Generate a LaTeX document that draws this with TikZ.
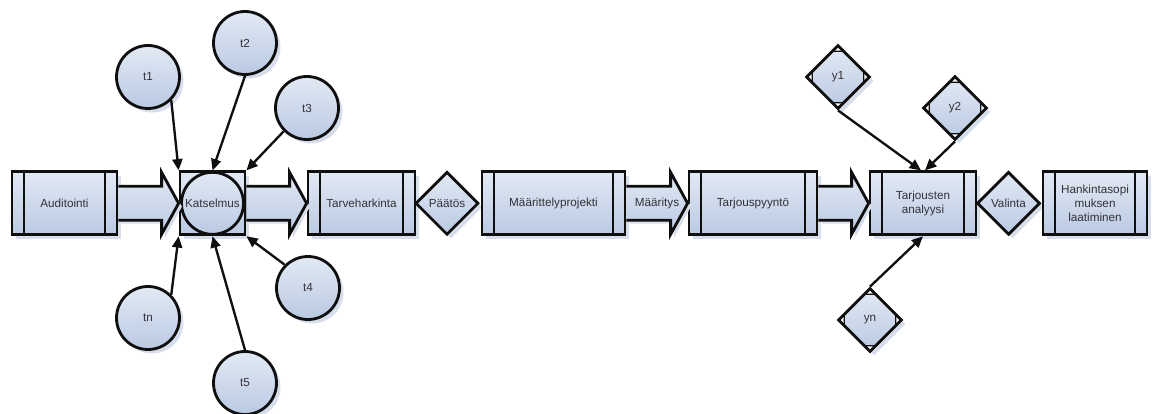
\documentclass[tikz,border=0pt]{standalone}
\usepackage{fontspec}
\setmainfont{Liberation Sans}
\usetikzlibrary{arrows.meta,positioning,calc,shapes.geometric,shadows}
\definecolor{shapetop}{RGB}{226,233,244}
\definecolor{shapebot}{RGB}{186,201,226}
\definecolor{shade}{RGB}{214,221,235}
\definecolor{ink}{RGB}{15,15,15}
\definecolor{label}{RGB}{50,50,55}
\tikzset{
  base/.style={draw=ink, line width=2.4pt, top color=shapetop, bottom color=shapebot,
              drop shadow={shadow xshift=0.12cm, shadow yshift=-0.12cm, fill=shade, opacity=1},
              font=\fontsize{10}{12}\selectfont, text=label, align=center, inner sep=1pt},
  proc/.style={base, rectangle, minimum height=1.89cm, minimum width=#1,
              path picture={\draw[ink, line width=2.4pt]
                ([xshift=0.36cm]path picture bounding box.north west) -- ([xshift=0.36cm]path picture bounding box.south west)
                ([xshift=-0.36cm]path picture bounding box.north east) -- ([xshift=-0.36cm]path picture bounding box.south east);}},
  review/.style={base, rectangle, minimum width=1.95cm, minimum height=1.89cm,
              path picture={\draw[ink, line width=2.4pt] (path picture bounding box.center) circle (0.93cm);}},
  choice/.style={base, diamond, minimum width=1.89cm, minimum height=1.89cm, inner sep=0pt},
  yref/.style={choice, minimum width=1.92cm, minimum height=1.92cm,
              path picture={
                \filldraw[ink, fill=white, line width=1pt] (path picture bounding box.north) -- ++(-0.17,-0.17) -- ++(0.34,0) -- cycle;
                \filldraw[ink, fill=white, line width=1pt] (path picture bounding box.south) -- ++(-0.17,0.17) -- ++(0.34,0) -- cycle;
                \filldraw[ink, fill=white, line width=1pt] (path picture bounding box.west) -- ++(0.17,0.17) -- ++(0,-0.34) -- cycle;
                \filldraw[ink, fill=white, line width=1pt] (path picture bounding box.east) -- ++(-0.17,0.17) -- ++(0,-0.34) -- cycle;}},
  tcirc/.style={base, circle, minimum size=1.89cm},
  bigarrow/.style={draw=ink, line width=2.4pt, top color=shapetop, bottom color=shapebot,
              drop shadow={shadow xshift=0.1cm, shadow yshift=-0.1cm, fill=shade, opacity=1}},
  link/.style={-{Triangle[length=0.34cm,width=0.3cm]}, ink, line width=2pt},
}
% block arrow from the east side of #1 to the west side of #2
\newcommand{\blockarrow}[2]{%
  \filldraw[bigarrow] ($(#1.east)+(0,0.51)$) -- ($(#2.west)+(-0.51,0.51)$) -- ($(#2.west)+(-0.51,0.93)$)
    -- (#2.west) -- ($(#2.west)+(-0.51,-0.93)$) -- ($(#2.west)+(-0.51,-0.51)$) -- ($(#1.east)+(0,-0.51)$);}
\begin{document}
\begin{tikzpicture}
  \useasboundingbox (0,0) rectangle (34.65,12.42);
  % main row
  \node[proc=3.15cm] (aud) at (1.935,6.32) {Auditointi};
  \node[review] (kat) at (6.375,6.32) {Katselmus};
  \node[proc=3.21cm] (tarve) at (10.845,6.32) {Tarveharkinta};
  \node[choice] (paatos) at (13.41,6.32) {Päätös};
  \node[proc=4.29cm] (mp) at (16.605,6.32) {Määrittelyprojekti};
  \node[proc=3.84cm] (tp) at (22.59,6.32) {Tarjouspyyntö};
  \node[proc=3.18cm] (ta) at (27.69,6.32) {Tarjousten\\analyysi};
  \node[choice] (val) at (30.255,6.32) {Valinta};
  \node[proc=3.12cm] (hs) at (32.85,6.32) {Hankintasopi\\muksen\\laatiminen};
  \blockarrow{aud}{kat}
  \blockarrow{kat}{tarve}
  \blockarrow{mp}{tp}
  \node[font=\fontsize{10}{12}\selectfont, text=label] (mlabel) at ($(mp.east)!0.5!(tp.west)$) {Määritys};
  \blockarrow{tp}{ta}
  % inputs of the review
  \node[tcirc] (t1) at (4.44,10.11) {t1};
  \node[tcirc] (t2) at (7.35,11.13) {t2};
  \node[tcirc] (t3) at (9.21,9.18) {t3};
  \node[tcirc] (t4) at (9.24,3.78) {t4};
  \node[tcirc] (t5) at (7.35,0.93) {t5};
  \node[tcirc] (tn) at (4.44,2.88) {tn};
  \draw[link] (t1.-45) -- (kat.north west);
  \draw[link] (t2.south) -- (kat.north);
  \draw[link] (t3.-135) -- (kat.north east);
  \draw[link] (t4.135) -- (kat.south east);
  \draw[link] (t5.north) -- (kat.south);
  \draw[link] (tn.45) -- (kat.south west);
  % offers
  \node[yref] (y1) at (25.14,10.11) {y1};
  \node[yref] (y2) at (28.65,9.18) {y2};
  \node[yref] (yn) at (26.1,2.82) {yn};
  \draw[link] (y1.south) -- ([xshift=-0.06cm]ta.north);
  \draw[link] (y2.south) -- ([xshift=0.06cm]ta.north);
  \draw[link] (yn.north) -- (ta.south);
\end{tikzpicture}
\end{document}
